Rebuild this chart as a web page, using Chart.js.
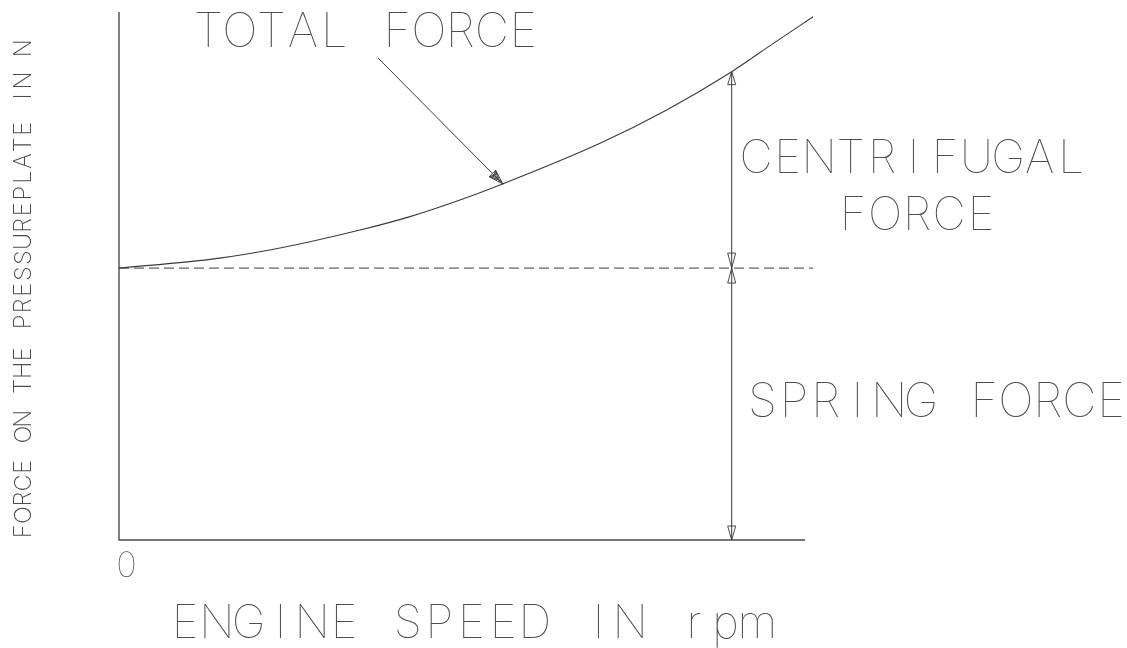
<!DOCTYPE html>
<html>
<head>
<meta charset="utf-8">
<script src="https://cdn.jsdelivr.net/npm/chart.js@4"></script>
<style>
  html, body { margin: 0; padding: 0; background: #fff; }
  canvas { display: block; }
</style>
</head>
<body>
<canvas id="myChart" width="1127" height="648"></canvas>
<script>
// values (x in rpm, y in N, arbitrary scale)
var rpm = [0, 918, 1422, 1927, 2431, 2935, 3439, 3843, 4852, 5524, 6180, 6600, 7000];
var totalForce = [1030, 1063, 1092, 1130, 1174, 1225, 1288, 1345, 1503, 1629, 1774, 1881, 1982];
var springForce = 1030;
var dimIndex = 10;              // dimension line sits at rpm[10]
var axisEnd = 6920;
var leaderRpm = [2612, 3873];
var leaderForce = [1826, 1348];
var xTicks = ['0'];
var xTitle = 'ENGINE SPEED IN rpm';
var yTitle = 'FORCE ON THE PRESSUREPLATE IN N';

var ink = '#3a3a3a';
var textInk = '#4d4d4d';

function pts(xs, ys) {
    return xs.map(function (x, i) { return { x: x, y: ys[i] }; });
}

// monospace-ish technical lettering: each glyph centred in its own cell
function letter(ctx, text, left, top, cap, pitch, weight) {
    ctx.save();
    ctx.font = (weight || 100) + ' ' + (cap / 0.72).toFixed(1) + 'px Inter, Roboto, Lato, sans-serif';
    ctx.fillStyle = textInk;
    ctx.textAlign = 'center';
    ctx.textBaseline = 'alphabetic';
    var gw = cap * 0.67;
    for (var i = 0; i < text.length; i++) {
        ctx.fillText(text[i], left + gw / 2 + i * pitch, top + cap);
    }
    ctx.restore();
}

function arrowHead(ctx, tx, ty, dx, dy, len, hw, hatch) {
    var n = Math.sqrt(dx * dx + dy * dy);
    dx /= n; dy /= n;
    var bx = tx - dx * len, by = ty - dy * len;
    var px = -dy * hw, py = dx * hw;
    ctx.beginPath();
    ctx.moveTo(tx, ty);
    ctx.lineTo(bx + px, by + py);
    ctx.lineTo(bx - px, by - py);
    ctx.closePath();
    ctx.stroke();
    if (hatch) {
        for (var k = 1; k < 4; k++) {
            var f = k / 4;
            ctx.beginPath();
            ctx.moveTo(tx + (bx + px - tx) * f, ty + (by + py - ty) * f);
            ctx.lineTo(bx - px, by - py);
            ctx.moveTo(tx + (bx - px - tx) * f, ty + (by - py - ty) * f);
            ctx.lineTo(bx + px, by + py);
            ctx.stroke();
        }
    }
}

var drawing = {
    id: 'drawing',
    beforeDatasetsDraw: function (chart) {
        var ctx = chart.ctx, x = chart.scales.x, y = chart.scales.y;
        ctx.save();
        ctx.strokeStyle = '#4a4a4a';
        ctx.lineWidth = 1.4;
        ctx.beginPath();
        ctx.moveTo(x.getPixelForValue(0), y.getPixelForValue(y.max));
        ctx.lineTo(x.getPixelForValue(0), y.getPixelForValue(0));
        ctx.lineTo(x.getPixelForValue(axisEnd), y.getPixelForValue(0));
        ctx.stroke();
        ctx.restore();
    },
    afterDraw: function (chart) {
        var ctx = chart.ctx, x = chart.scales.x, y = chart.scales.y;
        ctx.save();
        ctx.strokeStyle = ink;
        ctx.lineWidth = 0.9;
        var dx = x.getPixelForValue(rpm[dimIndex]);
        var yTop = y.getPixelForValue(totalForce[dimIndex]);
        var ySpring = y.getPixelForValue(springForce);
        var yZero = y.getPixelForValue(0);
        arrowHead(ctx, dx, yTop, 0, -1, 13, 4);
        arrowHead(ctx, dx, ySpring, 0, 1, 15, 4);
        arrowHead(ctx, dx, ySpring, 0, -1, 15, 4);
        arrowHead(ctx, dx, yZero, 0, 1, 14, 4);
        var lx0 = x.getPixelForValue(leaderRpm[0]), ly0 = y.getPixelForValue(leaderForce[0]);
        var lx1 = x.getPixelForValue(leaderRpm[1]), ly1 = y.getPixelForValue(leaderForce[1]);
        arrowHead(ctx, lx1, ly1, lx1 - lx0, ly1 - ly0, 15, 4.5, true);
        ctx.restore();

        letter(ctx, 'TOTAL FORCE', 197, 13, 34, 31.5);
        letter(ctx, 'CENTRIFUGAL', 745, 140, 33, 31.5);
        letter(ctx, 'FORCE', 842, 197, 33, 32);
        letter(ctx, 'SPRING FORCE', 751, 383, 34, 31.7);
        letter(ctx, xTitle, 174, 605, 33, 31.8);
        letter(ctx, xTicks[0], x.getPixelForValue(0) - 1, 552, 25, 16);

        ctx.save();
        ctx.translate(14, 537);
        ctx.rotate(-Math.PI / 2);
        letter(ctx, yTitle, 0, 0, 17, 16.1, 200);
        ctx.restore();
    }
};

new Chart(document.getElementById('myChart').getContext('2d'), {
    type: 'line',
    data: {
        datasets: [
            {
                label: 'Total force',
                data: pts(rpm, totalForce),
                borderColor: ink,
                borderWidth: 1.1,
                pointRadius: 0,
                cubicInterpolationMode: 'monotone',
                fill: false
            },
            {
                label: 'Spring force',
                data: pts([0, rpm[rpm.length - 1]], [springForce, springForce]),
                borderColor: ink,
                borderWidth: 1,
                borderDash: [10, 5],
                pointRadius: 0,
                fill: false
            },
            {
                label: 'Dimension',
                data: pts([rpm[dimIndex], rpm[dimIndex]], [0, totalForce[dimIndex]]),
                borderColor: ink,
                borderWidth: 1,
                pointRadius: 0,
                fill: false
            },
            {
                label: 'Leader',
                data: pts(leaderRpm, leaderForce),
                borderColor: ink,
                borderWidth: 1,
                pointRadius: 0,
                fill: false
            }
        ]
    },
    options: {
        responsive: false,
        animation: false,
        layout: {
            padding: { left: 119, right: 314, top: 12, bottom: 108 }
        },
        plugins: {
            legend: { display: false },
            tooltip: { enabled: false },
            title: { display: false }
        },
        scales: {
            x: { type: 'linear', min: 0, max: 7000, display: false },
            y: { min: 0, max: 2000, display: false }
        }
    },
    plugins: [drawing]
});
</script>
</body>
</html>
